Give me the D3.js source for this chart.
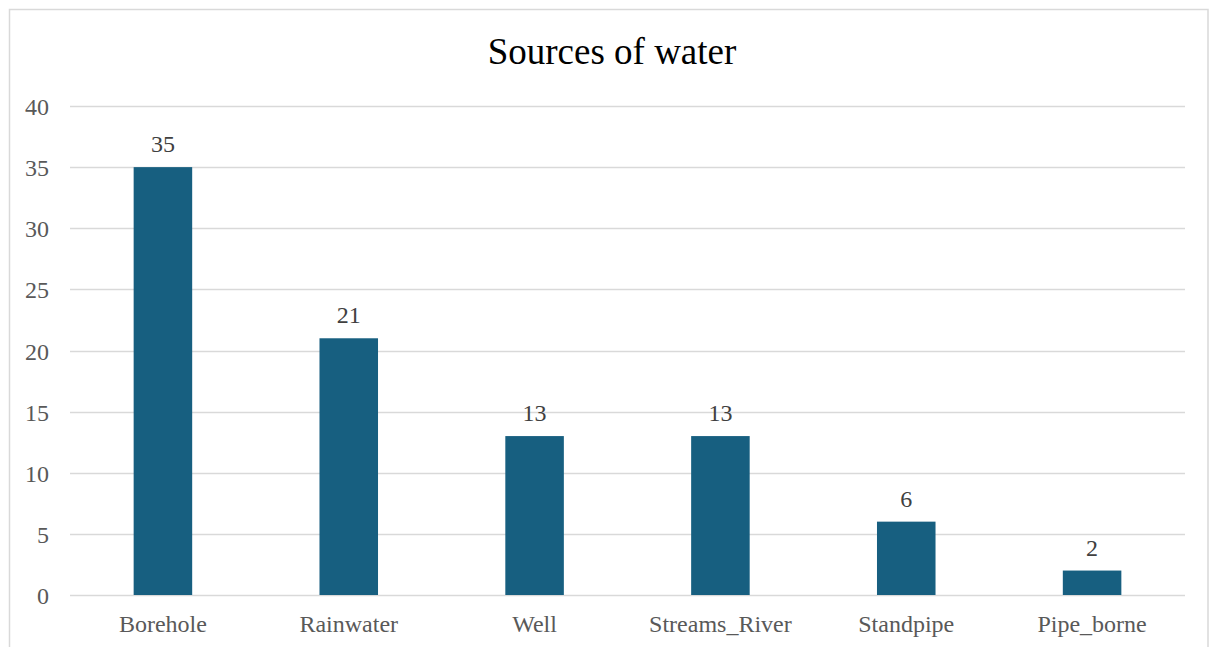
<!DOCTYPE html>
<html>
<head>
<meta charset="utf-8">
<script src="https://cdn.jsdelivr.net/npm/d3@7"></script>
<style>
  html, body { margin: 0; padding: 0; background: #fff; }
  svg { display: block; }
</style>
</head>
<body>
<svg id="chart" width="1209" height="647"></svg>
<script>
const categories = ["Borehole", "Rainwater", "Well", "Streams_River", "Standpipe", "Pipe_borne"];
const counts = [35, 21, 13, 13, 6, 2];
const yTicks = [0, 5, 10, 15, 20, 25, 30, 35, 40];
const chartTitle = "Sources of water";

const plot = { left: 70, right: 1185, top: 106, bottom: 595 };
const serif = "'Liberation Serif', 'Times New Roman', serif";

const svg = d3.select("#chart");

// outer chart frame
svg.append("rect")
  .attr("x", 9.5).attr("y", 9.5)
  .attr("width", 1208 - 9.5).attr("height", 700)
  .attr("fill", "#fff")
  .attr("stroke", "#d9d9d9").attr("stroke-width", 1.5);

const x = d3.scaleBand().domain(categories).range([plot.left, plot.right]).padding(0);
const y = d3.scaleLinear().domain([0, 40]).range([plot.bottom, plot.top]);
const barW = x.bandwidth() * 0.315;

// horizontal gridlines
svg.append("g")
  .selectAll("line")
  .data(yTicks)
  .join("line")
  .attr("x1", plot.left).attr("x2", plot.right)
  .attr("y1", d => Math.round(y(d)) + 0.5).attr("y2", d => Math.round(y(d)) + 0.5)
  .attr("stroke", "#d9d9d9").attr("stroke-width", 1.5);

// y tick labels
svg.append("g")
  .selectAll("text")
  .data(yTicks)
  .join("text")
  .attr("x", 49).attr("y", d => y(d) + 1)
  .attr("text-anchor", "end")
  .attr("dominant-baseline", "central")
  .attr("font-family", serif).attr("font-size", 24)
  .attr("fill", "#595959")
  .text(d => d);

// bars
svg.append("g")
  .selectAll("rect")
  .data(categories)
  .join("rect")
  .attr("x", d => x(d) + (x.bandwidth() - barW) / 2)
  .attr("width", barW)
  .attr("y", (d, i) => y(counts[i]))
  .attr("height", (d, i) => y(0) - y(counts[i]))
  .attr("fill", "#175f80");

// value labels
svg.append("g")
  .selectAll("text")
  .data(categories)
  .join("text")
  .attr("x", d => x(d) + x.bandwidth() / 2)
  .attr("y", (d, i) => y(counts[i]) - 15)
  .attr("text-anchor", "middle")
  .attr("font-family", serif).attr("font-size", 24)
  .attr("fill", "#404040")
  .text((d, i) => counts[i]);

// category labels
svg.append("g")
  .selectAll("text")
  .data(categories)
  .join("text")
  .attr("x", d => x(d) + x.bandwidth() / 2)
  .attr("y", plot.bottom + 37)
  .attr("text-anchor", "middle")
  .attr("font-family", serif).attr("font-size", 24)
  .attr("fill", "#595959")
  .text(d => d);

// title
svg.append("text")
  .attr("x", 612).attr("y", 64)
  .attr("text-anchor", "middle")
  .attr("font-family", serif).attr("font-size", 37)
  .attr("fill", "#000")
  .text(chartTitle);
</script>
</body>
</html>
